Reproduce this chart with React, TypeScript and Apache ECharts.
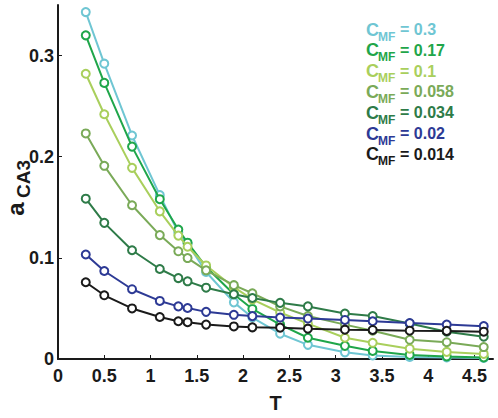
import React, { useEffect, useRef } from "react";
import * as echarts from "echarts";

const T = [0.3, 0.5, 0.8, 1.1, 1.3, 1.4, 1.6, 1.9, 2.1, 2.4, 2.7, 3.1, 3.4, 3.8, 4.2, 4.6];

const cmf03 = [0.343, 0.292, 0.221, 0.162, 0.125, 0.114, 0.086, 0.056, 0.041, 0.025, 0.014, 0.0066, 0.0035, 0.002, 0.0015, 0.001];
const cmf017 = [0.32, 0.273, 0.21, 0.158, 0.128, 0.115, 0.091, 0.064, 0.0495, 0.034, 0.021, 0.013, 0.008, 0.004, 0.0025, 0.0015];
const cmf01 = [0.282, 0.242, 0.189, 0.146, 0.122, 0.111, 0.0925, 0.071, 0.059, 0.046, 0.035, 0.021, 0.016, 0.0102, 0.007, 0.005];
const cmf0058 = [0.223, 0.191, 0.152, 0.1225, 0.1065, 0.0998, 0.0877, 0.073, 0.065, 0.052, 0.0425, 0.034, 0.028, 0.019, 0.0166, 0.0118];
const cmf0034 = [0.1585, 0.1346, 0.1075, 0.089, 0.08, 0.0768, 0.0705, 0.064, 0.0603, 0.0555, 0.052, 0.045, 0.0425, 0.035, 0.027, 0.022];
const cmf002 = [0.1033, 0.087, 0.069, 0.0574, 0.052, 0.0504, 0.0466, 0.0437, 0.0424, 0.041, 0.04, 0.0386, 0.0373, 0.0355, 0.034, 0.0325];
const cmf0014 = [0.0759, 0.063, 0.05, 0.0415, 0.0373, 0.0364, 0.034, 0.0322, 0.0313, 0.031, 0.03, 0.029, 0.0287, 0.028, 0.0278, 0.027];

const seriesLabels = ["0.3", "0.17", "0.1", "0.058", "0.034", "0.02", "0.014"];
const seriesValues = [cmf03, cmf017, cmf01, cmf0058, cmf0034, cmf002, cmf0014];
const seriesColors = ["#6FC6D3", "#1FA64A", "#A9CF5C", "#7AAA58", "#2E7B48", "#2D3A95", "#1A1A1A"];

const FONT = "'Liberation Sans', Arial, Helvetica, sans-serif";

export default function App() {
  const ref = useRef<HTMLDivElement>(null);
  useEffect(() => {
    if (!ref.current) return;
    const chart = echarts.init(ref.current, null, { renderer: "svg" });

    const legendGraphics: any[] = [];
    seriesLabels.forEach((lab, i) => {
      const cy = 29.5 + 20.8 * i;
      const col = seriesColors[i];
      legendGraphics.push({
        type: "text", x: 366, y: cy,
        style: { text: "C", fill: col, font: `bold 18px ${FONT}`, textVerticalAlign: "middle", textAlign: "left" },
      });
      legendGraphics.push({
        type: "text", x: 378, y: cy + 7,
        style: { text: "MF", fill: col, font: `bold 12px ${FONT}`, textVerticalAlign: "middle", textAlign: "left" },
      });
      legendGraphics.push({
        type: "text", x: 400, y: cy,
        style: { text: "= " + lab, fill: col, font: `bold 16px ${FONT}`, textVerticalAlign: "middle", textAlign: "left" },
      });
    });

    const option: any = {
      animation: false,
      backgroundColor: "#ffffff",
      grid: { left: 58, right: 5, top: 5, bottom: 48, containLabel: false },
      xAxis: {
        type: "value",
        min: 0,
        max: 4.7,
        interval: 0.5,
        name: "T",
        nameLocation: "middle",
        nameGap: 34,
        nameTextStyle: { fontFamily: FONT, fontWeight: "bold", fontSize: 20, color: "#1a1a1a" },
        axisLine: { show: true, lineStyle: { color: "#1a1a1a", width: 2 } },
        axisTick: { show: true, inside: true, length: 4, lineStyle: { color: "#1a1a1a", width: 1 } },
        axisLabel: { showMaxLabel: false, fontFamily: FONT, fontWeight: "bold", fontSize: 18, color: "#1a1a1a", margin: 8 },
        splitLine: { show: false },
      },
      yAxis: {
        type: "value",
        min: 0,
        max: 0.35,
        interval: 0.1,
        axisLine: { show: true, lineStyle: { color: "#1a1a1a", width: 2 } },
        axisTick: { show: true, inside: true, length: 4, lineStyle: { color: "#1a1a1a", width: 1 } },
        axisLabel: { showMaxLabel: false, fontFamily: FONT, fontWeight: "bold", fontSize: 18, color: "#1a1a1a", margin: 4 },
        splitLine: { show: false },
      },
      graphic: [
        ...legendGraphics,
        {
          type: "text", x: 15, y: 209, rotation: Math.PI / 2,
          style: { text: "a", fill: "#1a1a1a", font: `bold 24px ${FONT}`, textAlign: "center", textVerticalAlign: "middle" },
        },
        {
          type: "text", x: 23, y: 179, rotation: Math.PI / 2,
          style: { text: "CA3", fill: "#1a1a1a", font: `bold 19px ${FONT}`, textAlign: "center", textVerticalAlign: "middle" },
        },
      ],
      series: seriesValues.map((vals, i) => ({
        type: "line",
        name: "CMF = " + seriesLabels[i],
        data: T.map((t, j) => [t, vals[j]]),
        symbol: "emptyCircle",
        symbolSize: 8,
        showAllSymbol: true,
        lineStyle: { color: seriesColors[i], width: 2 },
        itemStyle: { color: seriesColors[i], borderColor: seriesColors[i], borderWidth: 2 },
        z: 2 + i,
      })),
    };
    chart.setOption(option);
    return () => chart.dispose();
  }, []);
  return <div ref={ref} style={{ position: "absolute", left: 0, top: 0, width: 498, height: 418 }} />;
}
